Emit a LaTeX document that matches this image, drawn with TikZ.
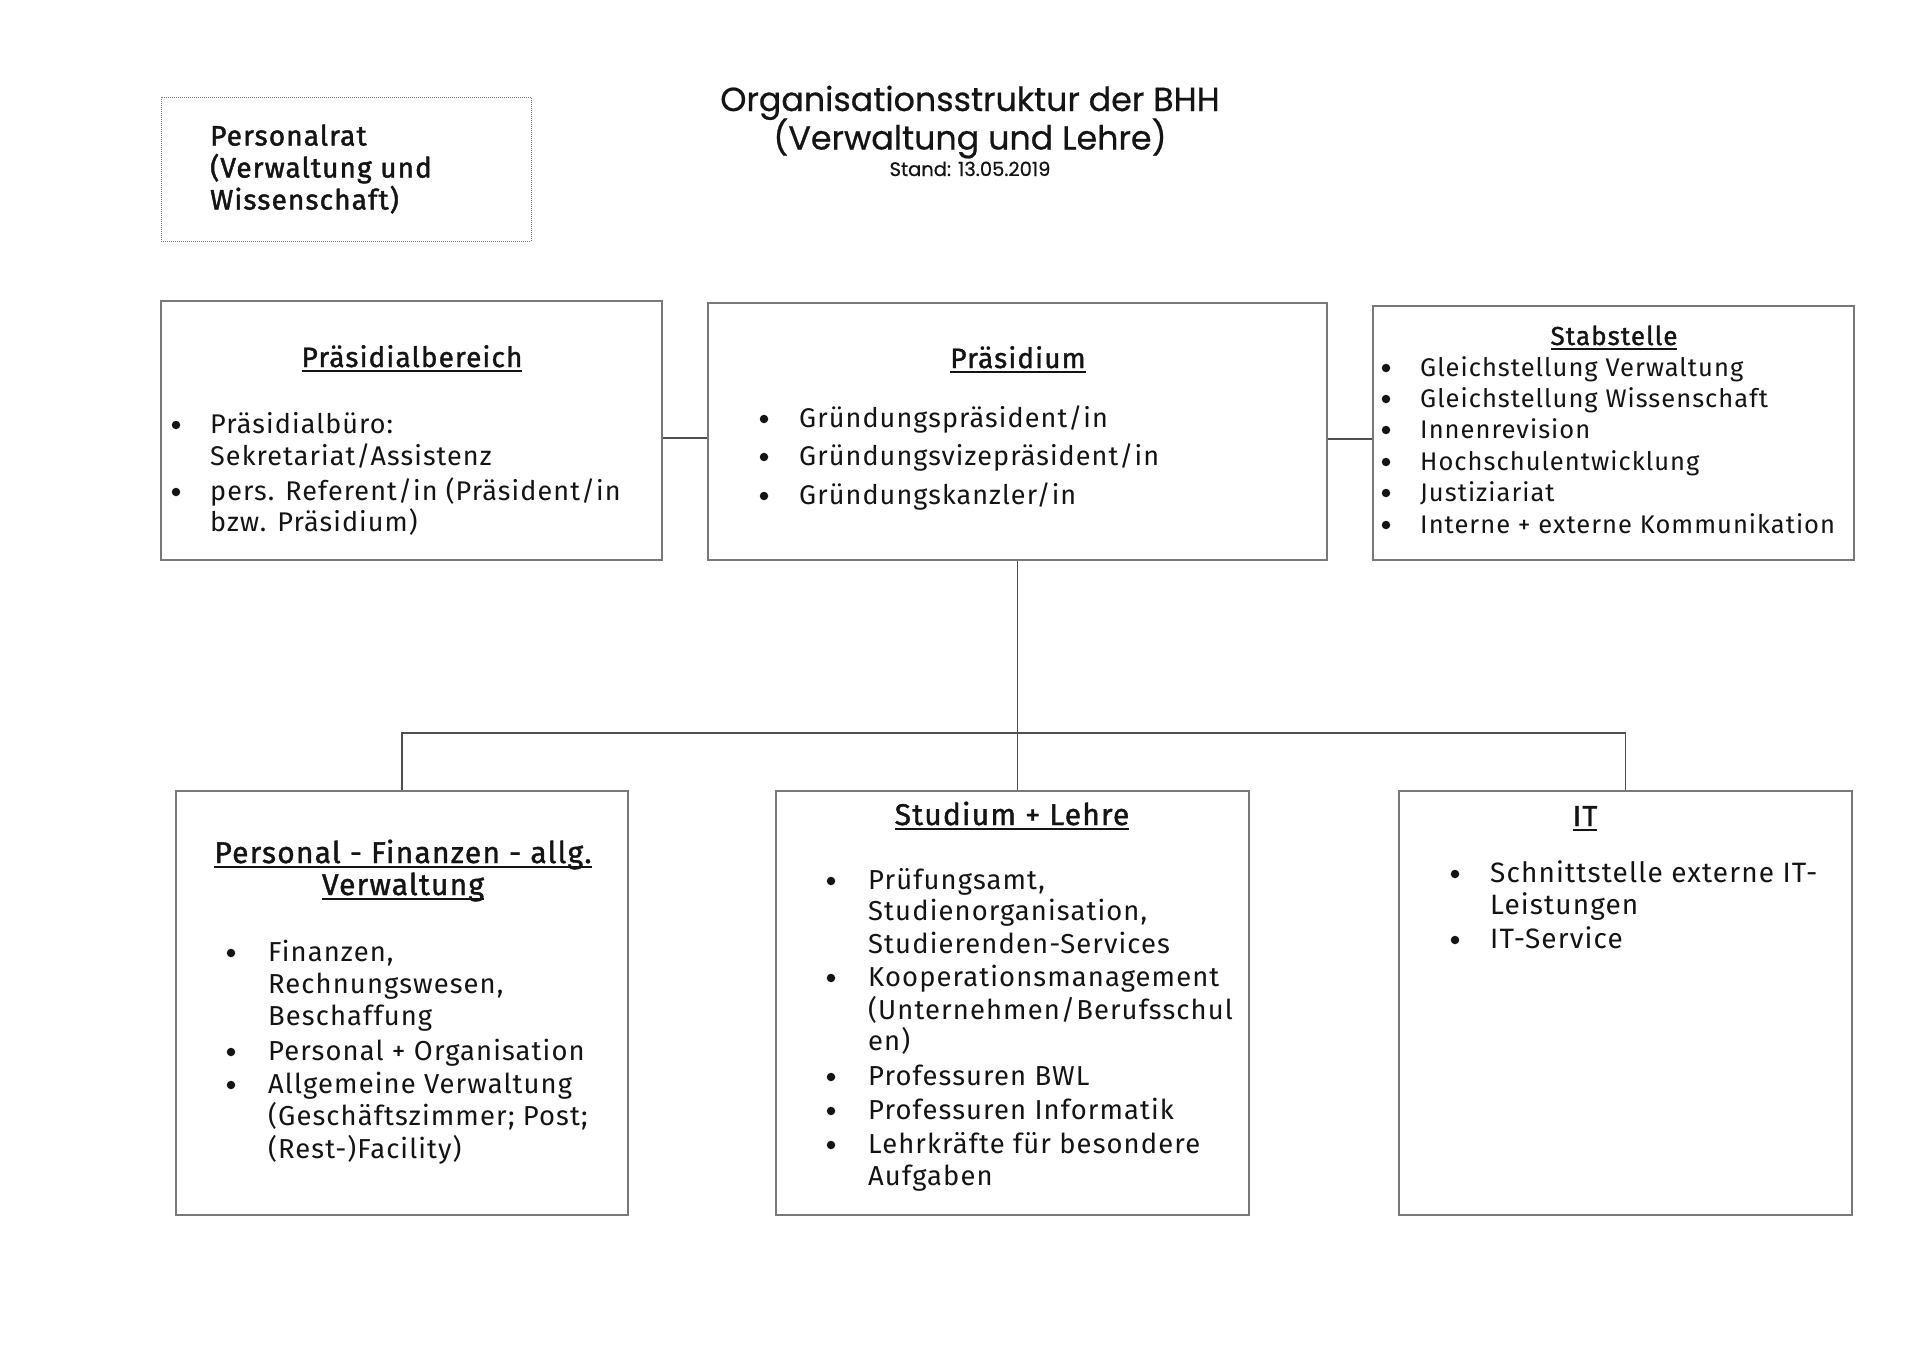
\documentclass[tikz,border=0pt]{standalone}
\usepackage{fontspec}
\setmainfont{Fira Sans}[LetterSpace=4.0]
\newfontfamily\titlef{Poppins}[FakeBold=0.6]
\newfontfamily\boldf{Fira Sans}[FakeBold=1.6,LetterSpace=4.0]
\newfontfamily\medf{Fira Sans}[FakeBold=1.3,LetterSpace=4.0]
\definecolor{boxgray}{RGB}{120,120,120}
\definecolor{conngray}{RGB}{80,80,80}
\definecolor{ink}{RGB}{20,20,20}
\newcommand\fs[1]{\fontsize{#1}{#1}\selectfont}
\newcommand\uln[1]{\setbox0=\hbox{#1}\rlap{\rule[-4.5pt]{\wd0}{1.8pt}}\box0}
\tikzset{
  box/.style={draw=boxgray,line width=1.6pt,inner sep=0pt,fill=white},
  dotbox/.style={draw=boxgray,line width=1pt,densely dotted,inner sep=0pt},
  conn/.style={draw=conngray,line width=1.6pt},
  li/.style={anchor=base west,inner sep=0pt,text=ink},
  bu/.style={circle,fill=ink,minimum size=8.5pt,inner sep=0pt,yshift=8pt},
  hd/.style={anchor=base,inner sep=0pt,text=ink},
}
\begin{document}
\begin{tikzpicture}[x=1pt,y=-1pt]
\useasboundingbox[fill=white] (0,0) rectangle (1920,1357);

% boxes
\node[dotbox,minimum width=370pt,minimum height=144pt] (pr) at (346,169) {};
\node[box,minimum width=501pt,minimum height=259pt] (pb) at (411.5,430.5) {};
\node[box,minimum width=619pt,minimum height=257pt] (pd) at (1017.5,431.5) {};
\node[box,minimum width=481pt,minimum height=254pt] (st) at (1613.5,433) {};
\node[box,minimum width=452pt,minimum height=424pt] (pf) at (402,1003) {};
\node[box,minimum width=473pt,minimum height=424pt] (sl) at (1012.5,1003) {};
\node[box,minimum width=453pt,minimum height=424pt] (it) at (1625.5,1003) {};

% connectors
\coordinate (j) at (1018,733);
\draw[conn] (pb.east |- 0,438) -- (pd.west |- 0,438);
\draw[conn] (pd.east |- 0,439) -- (st.west |- 0,439);
\draw[conn] (pd.south) -- (pd.south |- sl.north);
\draw[conn] (pf.north) -- (pf.north |- j) -- (it.north |- j) -- (it.north);

% title
\node[hd,font=\titlef\fs{33.3}] (t1) at (970,111) {Organisationsstruktur der BHH};
\node[hd,font=\titlef\fs{33.3}] (t2) at (970,149.5) {(Verwaltung und Lehre)};
\node[hd,font=\titlef\fs{19.5}] (t3) at (970,176) {Stand: 13.05.2019};

% Personalrat
\begin{scope}[every node/.append style={font=\boldf\fs{28}}]
\node[li] (pr1) at (210,145.5) {Personalrat};
\node[li] (pr2) at (210,177.5) {(Verwaltung und};
\node[li] (pr3) at (210,209.5) {Wissenschaft)};
\end{scope}

% Praesidialbereich
\node[hd,font=\medf\fs{28}] (pbh) at (412,367) {\uln{Präsidialbereich}};
\begin{scope}[every node/.append style={font=\fs{27}}]
\node[bu] (pbb1) at (176,433) {};
\node[li] (pb1) at (210,433) {Präsidialbüro:};
\node[li] (pb2) at (210,465) {Sekretariat/Assistenz};
\node[bu] (pbb2) at (176,500) {};
\node[li] (pb3) at (210,500) {pers. Referent/in (Präsident/in};
\node[li] (pb4) at (210,531) {bzw. Präsidium)};
\end{scope}

% Praesidium
\node[hd,font=\medf\fs{28}] (pdh) at (1018,368) {\uln{Präsidium}};
\begin{scope}[every node/.append style={font=\fs{27}}]
\node[bu] (pdb1) at (764,427) {};
\node[li] (pd1) at (799,427) {Gründungspräsident/in};
\node[bu] (pdb2) at (764,465) {};
\node[li] (pd2) at (799,465) {Gründungsvizepräsident/in};
\node[bu] (pdb3) at (764,504) {};
\node[li] (pd3) at (799,504) {Gründungskanzler/in};
\end{scope}

% Stabstelle
\node[hd,font=\medf\fs{26}] (sth) at (1614,345) {\uln{Stabstelle}};
\begin{scope}[every node/.append style={font=\fs{25.5}}]
\node[bu] (stb1) at (1386,376) {};
\node[li] (st1) at (1420,376) {Gleichstellung Verwaltung};
\node[bu] (stb2) at (1386,407) {};
\node[li] (st2) at (1420,407) {Gleichstellung Wissenschaft};
\node[bu] (stb3) at (1386,438) {};
\node[li] (st3) at (1420,438) {Innenrevision};
\node[bu] (stb4) at (1386,470) {};
\node[li] (st4) at (1420,470) {Hochschulentwicklung};
\node[bu] (stb5) at (1386,501) {};
\node[li] (st5) at (1420,501) {Justiziariat};
\node[bu] (stb6) at (1386,533) {};
\node[li] (st6) at (1420,533) {Interne + externe Kommunikation};
\end{scope}

% Personal - Finanzen
\node[hd,font=\medf\fs{30}] (pfh1) at (403,863) {\uln{Personal - Finanzen - allg.}};
\node[hd,font=\medf\fs{30}] (pfh2) at (403,895) {\uln{Verwaltung}};
\begin{scope}[every node/.append style={font=\fs{27.4}}]
\node[bu] (pfb1) at (231,961) {};
\node[li] (pf1) at (268,961) {Finanzen,};
\node[li] (pf2) at (268,993) {Rechnungswesen,};
\node[li] (pf3) at (268,1025) {Beschaffung};
\node[bu] (pfb2) at (231,1060) {};
\node[li] (pf4) at (268,1060) {Personal + Organisation};
\node[bu] (pfb3) at (231,1093) {};
\node[li] (pf5) at (268,1093) {Allgemeine Verwaltung};
\node[li] (pf6) at (268,1125) {(Geschäftszimmer; Post;};
\node[li] (pf7) at (268,1158) {(Rest-)Facility)};
\end{scope}

% Studium + Lehre
\node[hd,font=\medf\fs{30}] (slh) at (1012,825) {\uln{Studium + Lehre}};
\begin{scope}[every node/.append style={font=\fs{27.4}}]
\node[bu] (slb1) at (831,889) {};
\node[li] (sl1) at (868,889) {Prüfungsamt,};
\node[li] (sl2) at (868,920) {Studienorganisation,};
\node[li] (sl3) at (868,953) {Studierenden-Services};
\node[bu] (slb2) at (831,986) {};
\node[li] (sl4) at (868,986) {Kooperationsmanagement};
\node[li] (sl5) at (868,1019) {(Unternehmen/Berufsschul};
\node[li] (sl6) at (868,1050) {en)};
\node[bu] (slb3) at (831,1085) {};
\node[li] (sl7) at (868,1085) {Professuren BWL};
\node[bu] (slb4) at (831,1119) {};
\node[li] (sl8) at (868,1119) {Professuren Informatik};
\node[bu] (slb5) at (831,1153) {};
\node[li] (sl9) at (868,1153) {Lehrkräfte für besondere};
\node[li] (sl10) at (868,1185) {Aufgaben};
\end{scope}

% IT
\node[hd,font=\medf\fs{29}] (ith) at (1585,826) {\uln{IT}};
\begin{scope}[every node/.append style={font=\fs{28}}]
\node[bu] (itb1) at (1455,882) {};
\node[li] (it1) at (1490,882) {Schnittstelle externe IT-};
\node[li] (it2) at (1490,914) {Leistungen};
\node[bu] (itb2) at (1455,948) {};
\node[li] (it3) at (1490,948) {IT-Service};
\end{scope}
\end{tikzpicture}
\end{document}
